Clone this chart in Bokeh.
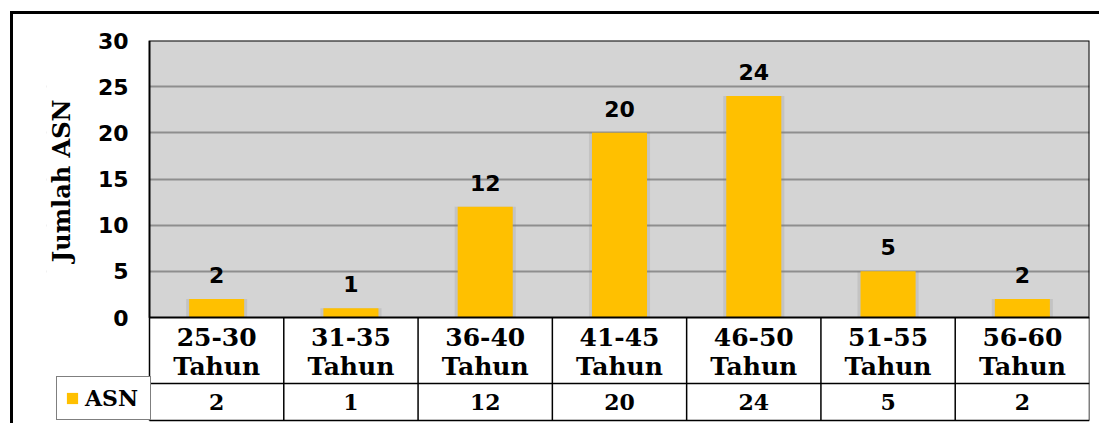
import math
from bokeh.plotting import figure
from bokeh.models import (Range1d, FixedTicker, Legend, LegendItem, ColumnDataSource, Label,
                          BoxAnnotation)
from bokeh.core.properties import value
from bokeh.embed import file_html
from bokeh.resources import INLINE

# ---- data ----
categories = ["25-30 Tahun", "31-35 Tahun", "36-40 Tahun", "41-45 Tahun",
              "46-50 Tahun", "51-55 Tahun", "56-60 Tahun"]
asn_values = [2, 1, 12, 20, 24, 5, 2]
series_name = "ASN"
y_ticks = [0, 5, 10, 15, 20, 25, 30]
y_title = "Jumlah ASN"

n = len(categories)
xs = [i + 0.5 for i in range(n)]
range_labels = [c.split(" ")[0] for c in categories]
unit_labels = [c.split(" ")[1] for c in categories]

# layout constants (data units)
X_LEFT = -0.767          # white zone left of the plot area (axis labels, legend cell)
Y_BOTTOM = -11.37
TABLE_BOTTOM = -11.16
ROW_SPLIT = -7.15
LINE1 = -2.06
LINE2 = -5.31
DATA_ROW = -9.15

SERIF = "DejaVu Serif"
SANS = "DejaVu Sans"

p = figure(width=1089, height=412, output_backend="svg", toolbar_location=None,
           x_range=Range1d(X_LEFT, n), y_range=Range1d(Y_BOTTOM, 30),
           x_axis_location=None, min_border_left=33, min_border_right=13,
           min_border_top=26, min_border_bottom=4)
# outer chart border (left and top edges) drawn as an offset shadow so it takes no layout space
p.styles = {"box-shadow": "-3px -3px 0 0 #000", "margin-left": "13px", "margin-top": "14px"}

p.background_fill_color = "white"
p.border_fill_color = "white"
p.outline_line_color = None

# gray plot area, drawn under the grid lines
plot_area = BoxAnnotation(left=0, right=n, bottom=0, top=30, fill_color="#D4D4D4",
                          fill_alpha=1.0, line_color=None, level="underlay")
p.center = [plot_area] + list(p.center)

p.xgrid.visible = False
p.ygrid.ticker = FixedTicker(ticks=y_ticks[1:])
p.ygrid.grid_line_color = "#8E8E8E"
p.ygrid.grid_line_width = 2

yax = p.yaxis[0]
yax.ticker = FixedTicker(ticks=y_ticks)
yax.axis_line_color = None
yax.major_tick_line_color = None
yax.major_tick_out = 0
yax.major_tick_in = 0
yax.minor_tick_line_color = None
yax.major_label_standoff = -82
yax.major_label_text_font = SANS
yax.major_label_text_font_style = "bold"
yax.major_label_text_font_size = "22px"
yax.major_label_text_color = "black"

# white zone left of the plot area (hides grid lines there)
p.quad(left=[X_LEFT - 0.2], right=[0], bottom=[Y_BOTTOM - 1], top=[31],
       fill_color="white", line_color=None)

# bars (with soft shadow)
src = ColumnDataSource(dict(x=xs, top=asn_values, lab=[str(v) for v in asn_values]))
p.vbar(x="x", top="top", bottom=0, width=0.455, source=src,
       fill_color="#7a7a7a", fill_alpha=0.18, line_color=None)
bars = p.vbar(x="x", top="top", bottom=0, width=0.41, source=src,
              fill_color="#FFC000", line_color=None)

# plot-area border
p.quad(left=[0], right=[n], bottom=[0], top=[30], fill_color=None,
       line_color="black", line_width=2)

# bar value labels
p.text(x="x", y="top", text="lab", source=src, text_align="center",
       text_baseline="alphabetic", y_offset=-24, text_font=value(SANS),
       text_font_style="bold", text_font_size="22px", text_color="black")

# table lines
p.segment(x0=[0, 0], x1=[n, n], y0=[ROW_SPLIT, TABLE_BOTTOM], y1=[ROW_SPLIT, TABLE_BOTTOM],
          line_color="black", line_width=1.5)
p.segment(x0=list(range(0, n + 1)), x1=list(range(0, n + 1)),
          y0=[TABLE_BOTTOM] * (n + 1), y1=[0] * (n + 1), line_color="black", line_width=1.5)

# category labels
p.text(x=xs, y=[LINE1] * n, text=range_labels, text_align="center", text_baseline="middle",
       text_font=value(SERIF), text_font_style="bold", text_font_size="25px", text_color="black")
p.text(x=xs, y=[LINE2] * n, text=unit_labels, text_align="center", text_baseline="middle",
       text_font=value(SERIF), text_font_style="bold", text_font_size="25px", text_color="black")

# data table row
p.text(x=xs, y=[DATA_ROW] * n, text=[str(v) for v in asn_values], text_align="center",
       text_baseline="middle", text_font=value(SERIF), text_font_style="bold",
       text_font_size="22px", text_color="black")

# y-axis title
p.add_layout(Label(x=-0.655, y=14.8, text=y_title, angle=math.pi / 2,
                   text_align="center", text_baseline="middle",
                   text_font=SERIF, text_font_style="bold", text_font_size="24px",
                   text_color="black"))

legend = Legend(items=[LegendItem(label=series_name, renderers=[bars])],
                location=(10, 2), orientation="vertical", padding=8, margin=0,
                glyph_width=14, glyph_height=14, label_standoff=6, label_width=57,
                label_height=21, spacing=0,
                label_text_font=SERIF, label_text_font_style="bold",
                label_text_font_size="22px", label_text_color="black",
                border_line_color="black", border_line_width=1.5,
                background_fill_color="white", background_fill_alpha=1.0)
p.add_layout(legend, "center")

open("out.html", "w").write(file_html(p, INLINE))
